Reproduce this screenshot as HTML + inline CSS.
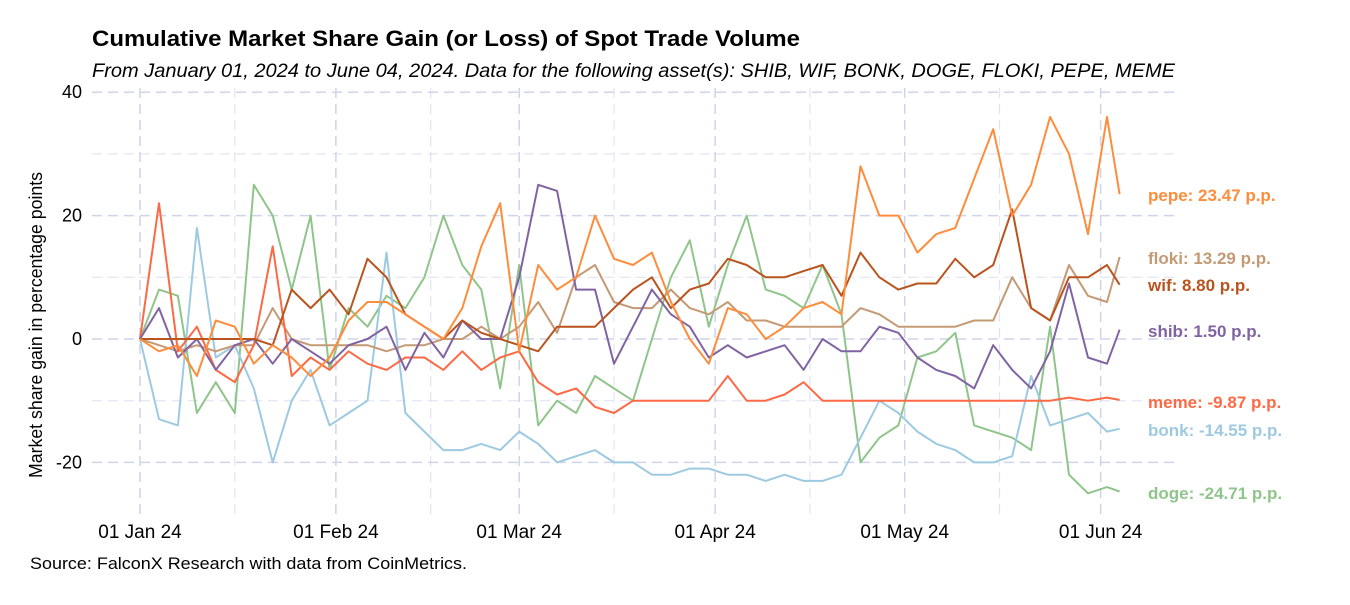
<!DOCTYPE html>
<html><head><meta charset="utf-8"><style>
body{margin:0;background:#fff;font-family:"Liberation Sans",Arial,sans-serif;}
svg text{font-family:"Liberation Sans",Arial,sans-serif;}
</style></head><body>
<svg id="chart" width="1350" height="600" xmlns="http://www.w3.org/2000/svg">
<rect width="1350" height="600" fill="#fff"/>
<text x="92" y="46" font-size="22" font-weight="bold" fill="#000" textLength="708" lengthAdjust="spacingAndGlyphs">Cumulative Market Share Gain (or Loss) of Spot Trade Volume</text>
<text x="92" y="77" font-size="19" font-style="italic" fill="#000" textLength="1083" lengthAdjust="spacingAndGlyphs">From January 01, 2024 to June 04, 2024. Data for the following asset(s): SHIB, WIF, BONK, DOGE, FLOKI, PEPE, MEME</text>
<text transform="translate(42,325) rotate(-90)" text-anchor="middle" font-size="18" fill="#000" textLength="306" lengthAdjust="spacingAndGlyphs">Market share gain in percentage points</text>
<text x="30" y="569" font-size="17" fill="#000" textLength="437" lengthAdjust="spacingAndGlyphs">Source: FalconX Research with data from CoinMetrics.</text>
<g id="grid"></g><g id="series"></g><g id="labels"></g>
</svg>
<script>
const days=[];for(let d=0;d<=153;d+=3)days.push(d);days.push(155);
const pepe=[0,-2,-1,-6,3,2,-4,-1,-3,-6,-3,3,6,6,4,2,0,5,15,22,-2,12,8,10,20,13,12,14,6,0,-4,5,4,0,2,5,6,4,28,20,20,14,17,18,26,34,20,25,36,30,17,36,23.47];
const meme=[0,22,-2,2,-5,-7,-1,15,-6,-3,-5,-2,-4,-5,-3,-3,-5,-2,-5,-3,-2,-7,-9,-8,-11,-12,-10,-10,-10,-10,-10,-6,-10,-10,-9,-7,-10,-10,-10,-10,-10,-10,-10,-10,-10,-10,-10,-10,-10,-9.5,-10,-9.5,-9.87];
const doge=[0,8,7,-12,-7,-12,25,20,8,20,-5,5,2,7,5,10,20,12,8,-8,12,-14,-10,-12,-6,-8,-10,0,10,16,2,12,20,8,7,5,12,4,-20,-16,-14,-3,-2,1,-14,-15,-16,-18,2,-22,-25,-24,-24.71];
const bonk=[0,-13,-14,18,-3,-1,-8,-20,-10,-5,-14,-12,-10,14,-12,-15,-18,-18,-17,-18,-15,-17,-20,-19,-18,-20,-20,-22,-22,-21,-21,-22,-22,-23,-22,-23,-23,-22,-16,-10,-12,-15,-17,-18,-20,-20,-19,-6,-14,-13,-12,-15,-14.55];
const shib=[0,5,-3,0,-5,-1,0,-4,0,-2,-4,-1,0,2,-5,1,-3,3,0,0,10,25,24,8,8,-4,2,8,4,2,-3,-1,-3,-2,-1,-5,0,-2,-2,2,1,-3,-5,-6,-8,-1,-5,-8,-2,9,-3,-4,1.5];
const floki=[0,-1,-2,-1,-2,-1,-1,5,0,-1,-1,-1,-1,-2,-1,-1,0,0,2,0,2,6,1,10,12,6,5,5,8,5,4,6,3,3,2,2,2,2,5,4,2,2,2,2,3,3,10,5,3,12,7,6,13.29];
const wif=[0,0,0,0,0,0,0,-1,8,5,8,4,13,10,4,2,0,3,1,0,-1,-2,2,2,2,5,8,10,5,8,9,13,12,10,10,11,12,7,14,10,8,9,9,13,10,12,21,5,3,10,10,12,8.8];
const yTicks=[40,20,0,-20];
const yMinor=[30,10,-10];
const xTickDays=[0,31,60,91,121,152];
const xTickLabels=["01 Jan 24","01 Feb 24","01 Mar 24","01 Apr 24","01 May 24","01 Jun 24"];
const xMinorDays=[15,46,75,106,136];
const seriesNames=["doge","bonk","floki","meme","shib","wif","pepe"];
const seriesLabels={pepe:"pepe: 23.47 p.p.",floki:"floki: 13.29 p.p.",wif:"wif: 8.80 p.p.",shib:"shib: 1.50 p.p.",meme:"meme: -9.87 p.p.",bonk:"bonk: -14.55 p.p.",doge:"doge: -24.71 p.p."};

const data={pepe,meme,doge,bonk,shib,floki,wif};
const colors={pepe:"#fd8d3c",meme:"#fc6a45",doge:"#8fc58a",bonk:"#9ecae1",shib:"#8064a2",floki:"#c49a75",wif:"#b9541f"};
const labelY={pepe:195,floki:258,wif:285,shib:331,meme:402,bonk:430,doge:493};
const X=d=>140+d*6.32;
const Y=v=>339-v*6.17;
const NS="http://www.w3.org/2000/svg";
const grid=document.getElementById('grid');
function line(x1,y1,x2,y2,stroke,w,dash,name){
  const l=document.createElementNS(NS,'line');
  l.setAttribute('x1',x1);l.setAttribute('y1',y1);l.setAttribute('x2',x2);l.setAttribute('y2',y2);
  l.setAttribute('stroke',stroke);l.setAttribute('stroke-width',w);l.setAttribute('stroke-dasharray',dash);
  
  
  grid.appendChild(l);
}
yMinor.forEach(v=>line(92,Y(v),1175,Y(v),"#e2e4f2",1.2,"10,6","y-minor-gridline"));
xMinorDays.forEach(d=>line(X(d),88,X(d),515,"#e2e4f2",1.2,"10,6","x-minor-gridline"));
yTicks.forEach(v=>{
  line(92,Y(v),1175,Y(v),"#cfd3ec",1.5,"10,6","y-gridline");
  const t=document.createElementNS(NS,'text');
  t.setAttribute('x',82);t.setAttribute('y',Y(v)+6);t.setAttribute('text-anchor','end');t.setAttribute('font-size','18');
  t.textContent=v;
  
  
  grid.appendChild(t);
});
xTickDays.forEach((d,i)=>{
  line(X(d),88,X(d),515,"#cfd3ec",1.5,"10,6","x-gridline");
  const t=document.createElementNS(NS,'text');
  t.setAttribute('x',X(d));t.setAttribute('y',538);t.setAttribute('text-anchor','middle');t.setAttribute('font-size','19');
  t.textContent=xTickLabels[i];
  
  
  grid.appendChild(t);
});
const sg=document.getElementById('series'),lg=document.getElementById('labels');
seriesNames.forEach(n=>{
  const p=document.createElementNS(NS,'polyline');
  p.setAttribute('points',data[n].map((v,i)=>X(days[i]).toFixed(1)+','+Y(v).toFixed(1)).join(' '));
  p.setAttribute('fill','none');p.setAttribute('stroke',colors[n]);p.setAttribute('stroke-width','2');p.setAttribute('stroke-linejoin','round');
  
  
  sg.appendChild(p);
  const t=document.createElementNS(NS,'text');
  t.setAttribute('x',1148);t.setAttribute('y',labelY[n]+6);t.setAttribute('font-size','17');t.setAttribute('font-weight','bold');t.setAttribute('fill',colors[n]);
  t.textContent=seriesLabels[n];
  
  
  lg.appendChild(t);
});
</script>
</body></html>
